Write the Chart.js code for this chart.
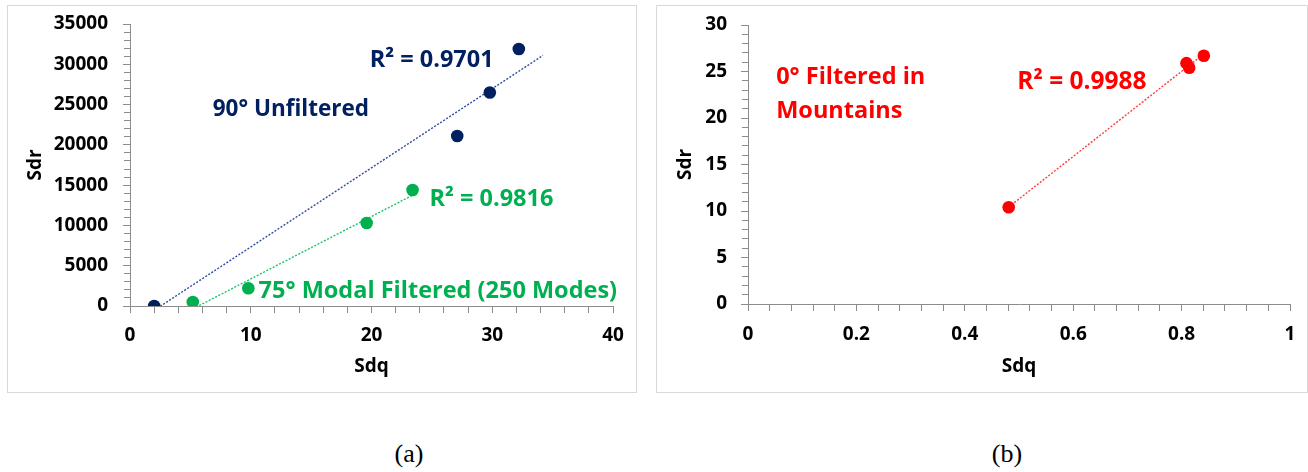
<!DOCTYPE html>
<html>
<head>
<meta charset="utf-8">
<script src="https://cdn.jsdelivr.net/npm/chart.js@4.4.1/dist/chart.umd.min.js"></script>
<style>
  html, body { margin: 0; padding: 0; background: #fff; }
  body { width: 1308px; height: 472px; position: relative; overflow: hidden; }
  .panel { position: absolute; top: 5px; height: 388px; }
  .panel canvas { position: absolute; left: 0; top: 0; }
  .frame { position: absolute; left: 0; top: 0; right: 0; bottom: 0; border: 1px solid #d9d9d9; pointer-events: none; }
  .caption { position: absolute; top: 439px; font-family: "Liberation Serif", serif; font-size: 26px; color: #000; transform: translateX(-50%); }
</style>
</head>
<body>
<div class="panel" id="panelA" style="left:7px; width:630px;">
  <canvas id="chartA" width="630" height="388"></canvas>
  <div class="frame"></div>
</div>
<div class="panel" id="panelB" style="left:656px; width:652px;">
  <canvas id="chartB" width="652" height="388"></canvas>
  <div class="frame"></div>
</div>
<div class="caption" style="left:409px;">(a)</div>
<div class="caption" style="left:1007px;">(b)</div>

<script>
// ---- Panel (a): Sdr vs Sdq ----
const unfilteredSdq = [2.0, 27.1, 29.8, 32.2];
const unfilteredSdr = [0, 21100, 26500, 31900];
const modalSdq = [5.2, 9.8, 19.6, 23.4];
const modalSdr = [500, 2200, 10300, 14400];
const sdqTicksA = [0, 10, 20, 30, 40];
const sdrTicksA = [0, 5000, 10000, 15000, 20000, 25000, 30000, 35000];
const sdqMinorStepA = 2;
const sdrMinorStepA = 1000;

// ---- Panel (b): Sdr vs Sdq, 0° filtered in mountains ----
const mountainSdq = [0.481, 0.809, 0.814, 0.841];
const mountainSdr = [10.4, 25.9, 25.4, 26.7];
const sdqTicksB = [0, 0.2, 0.4, 0.6, 0.8, 1];
const sdrTicksB = [0, 5, 10, 15, 20, 25, 30];
const sdqMinorStepB = 0.04;
const sdrMinorStepB = 1;

const NAVY = '#002060';
const GREEN = '#00B050';
const RED = '#FF0000';
const AXIS_GREY = '#8c8c8c';
const FONT = '"Open Sans", Lato, sans-serif';

const toPoints = (xs, ys) => xs.map((x, i) => ({ x, y: ys[i] }));

// Least-squares linear trend evaluated across the data range (plus optional forecast)
function trend(xs, ys, forward = 0) {
  const n = xs.length;
  const mx = xs.reduce((a, b) => a + b, 0) / n;
  const my = ys.reduce((a, b) => a + b, 0) / n;
  let sxx = 0, sxy = 0;
  for (let i = 0; i < n; i++) { sxx += (xs[i] - mx) ** 2; sxy += (xs[i] - mx) * (ys[i] - my); }
  const slope = sxy / sxx, icpt = my - slope * mx;
  const x0 = Math.min(...xs), x1 = Math.max(...xs) + forward;
  return [{ x: x0, y: slope * x0 + icpt }, { x: x1, y: slope * x1 + icpt }];
}

// Major ticks labelled, minor ticks drawn unlabelled
function tickSet(major, minorStep) {
  const lo = major[0], hi = major[major.length - 1];
  const n = Math.round((hi - lo) / minorStep);
  const out = [];
  for (let i = 0; i <= n; i++) {
    const v = +(lo + i * minorStep).toFixed(6);
    out.push({ value: v, major: major.some(m => Math.abs(m - v) < 1e-9) });
  }
  return out;
}

function axis(position, major, minorStep, o) {
  const isX = position === 'bottom';
  return {
    type: 'linear',
    position,
    min: major[0],
    max: major[major.length - 1],
    afterBuildTicks: s => { s.ticks = tickSet(major, minorStep); },
    afterFit: s => {
      if (isX) s.height = o.size; else s.width = o.size;
      // plot area is fixed by the layout padding alone
      s.paddingTop = s.paddingBottom = s.paddingLeft = s.paddingRight = 0;
    },
    grid: {
      drawOnChartArea: false,
      drawTicks: true,
      tickLength: 7,
      tickColor: AXIS_GREY,
      tickWidth: 1,
      tickBorderDash: ctx => (ctx.tick && ctx.tick.major) ? [] : (isX ? [6, 20] : [6, 1]),
      tickBorderDashOffset: ctx => (ctx.tick && ctx.tick.major) ? 0 : (isX ? 0 : 6),
    },
    border: { display: true, color: AXIS_GREY, width: 1 },
    ticks: {
      autoSkip: false,
      maxRotation: 0,
      padding: o.tickPad,
      color: '#000',
      font: { family: FONT, size: 19, weight: 'bold' },
      callback: function (v, i, ticks) { return ticks[i].major ? String(v) : ''; },
    },
    title: {
      display: true,
      text: o.title,
      color: '#000',
      font: { family: FONT, size: 19, weight: 'bold' },
      padding: isX ? { top: 0, bottom: o.titlePad } : { top: o.titlePad, bottom: 0 },
    },
  };
}

// Free-floating annotations placed in data coordinates
const textPlugin = {
  id: 'textNotes',
  afterDatasetsDraw(chart, args, opts) {
    const { ctx, scales: { x, y } } = chart;
    ctx.save();
    ctx.textAlign = 'left';
    ctx.textBaseline = 'middle';
    for (const n of opts.notes || []) {
      ctx.font = `bold ${n.size}px ${FONT}`;
      ctx.fillStyle = n.color;
      ctx.fillText(n.text, x.getPixelForValue(n.x), y.getPixelForValue(n.y));
    }
    ctx.restore();
  }
};

function pointSet(data, color) {
  return { type: 'scatter', data, backgroundColor: color, borderColor: color, borderWidth: 0, pointRadius: 6.3, pointHoverRadius: 6.3 };
}
function trendSet(data, color, width) {
  return { type: 'line', data, borderColor: color, borderWidth: width, borderDash: [2, 1.6], pointRadius: 0, fill: false, clip: 0, tension: 0 };
}

const common = {
  responsive: false,
  animation: false,
  events: [],
  plugins: { legend: { display: false }, tooltip: { enabled: false } },
};

new Chart(document.getElementById('chartA'), {
  type: 'scatter',
  data: {
    datasets: [
      pointSet(toPoints(unfilteredSdq, unfilteredSdr), NAVY),
      pointSet(toPoints(modalSdq, modalSdr), GREEN),
      trendSet(trend(unfilteredSdq, unfilteredSdr, 2), '#2f4a9c', 1.4),
      trendSet(trend(modalSdq, modalSdr), '#1cc46a', 1.4),
    ]
  },
  options: {
    ...common,
    layout: { autoPadding: false, padding: { left: 0, top: 19, right: 24, bottom: 0 } },
    scales: {
      x: axis('bottom', sdqTicksA, sdqMinorStepA, { size: 87, tickPad: 11, title: 'Sdq', titlePad: 15 }),
      y: axis('left', sdrTicksA, sdrMinorStepA, { size: 123, tickPad: 15, title: 'Sdr', titlePad: 17 }),
    },
    plugins: {
      ...common.plugins,
      textNotes: {
        notes: [
          { text: 'R² = 0.9701', x: 19.85, y: 30530, color: NAVY, size: 23.5 },
          { text: '90° Unfiltered', x: 6.85, y: 24330, color: NAVY, size: 22.5 },
          { text: 'R² = 0.9816', x: 24.8, y: 13280, color: GREEN, size: 23.5 },
          { text: '75° Modal Filtered (250 Modes)', x: 10.65, y: 1860, color: GREEN, size: 23.5 },
        ]
      }
    }
  },
  plugins: [textPlugin]
});

new Chart(document.getElementById('chartB'), {
  type: 'scatter',
  data: {
    datasets: [
      pointSet(toPoints(mountainSdq, mountainSdr), RED),
      trendSet(trend(mountainSdq, mountainSdr), '#ff3b3b', 1.4),
    ]
  },
  options: {
    ...common,
    layout: { autoPadding: false, padding: { left: 0, top: 20, right: 18, bottom: 0 } },
    scales: {
      x: axis('bottom', sdqTicksB, sdqMinorStepB, { size: 89, tickPad: 12, title: 'Sdq', titlePad: 15 }),
      y: axis('left', sdrTicksB, sdrMinorStepB, { size: 92, tickPad: 14, title: 'Sdr', titlePad: 18 }),
    },
    plugins: {
      ...common.plugins,
      textNotes: {
        notes: [
          { text: '0° Filtered in', x: 0.052, y: 24.4, color: RED, size: 23.5 },
          { text: 'Mountains', x: 0.052, y: 20.74, color: RED, size: 23.5 },
          { text: 'R² = 0.9988', x: 0.497, y: 23.87, color: RED, size: 24.5 },
        ]
      }
    }
  },
  plugins: [textPlugin]
});
</script>
</body>
</html>
